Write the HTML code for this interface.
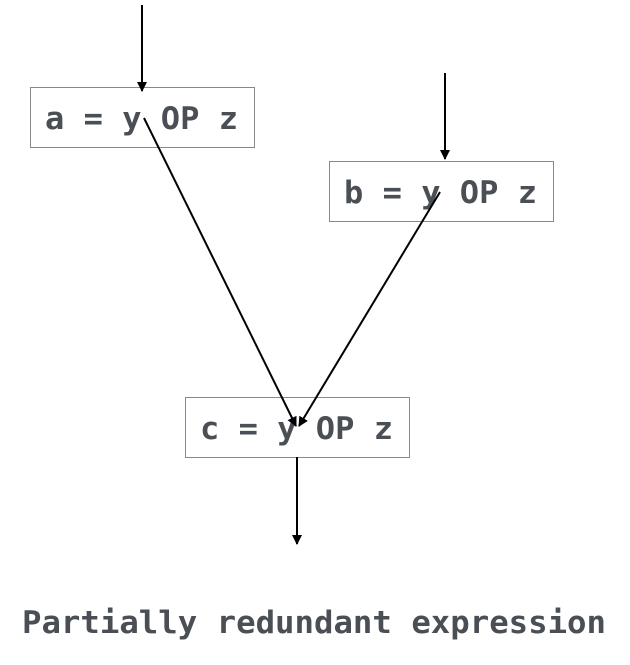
<!DOCTYPE html>
<html><head><meta charset="utf-8"><style>html,body{margin:0;padding:0;background:#fff}svg{display:block}</style></head>
<body>
<svg width="630" height="665" viewBox="0 0 630 665" xmlns="http://www.w3.org/2000/svg">
<defs><marker id="ah" markerWidth="10" markerHeight="10" refX="9" refY="5" orient="auto" markerUnits="userSpaceOnUse"><path d="M0,0 L10,5 L0,10 z" fill="#000"/></marker></defs>
<g fill="#fff" stroke="#888" stroke-width="1">
<rect x="30.5" y="87.5" width="224" height="60"/>
<rect x="329.5" y="161.5" width="224" height="60"/>
<rect x="185.5" y="397.5" width="224" height="60"/>
</g>
<g font-family="DejaVu Sans Mono, Liberation Mono, monospace" font-weight="bold" font-size="31" fill="#4a4f55">
<text x="45" y="129" textLength="193" lengthAdjust="spacingAndGlyphs">a = y OP z</text>
<text x="344" y="203" textLength="193" lengthAdjust="spacingAndGlyphs">b = y OP z</text>
<text x="200" y="439" textLength="193" lengthAdjust="spacingAndGlyphs">c = y OP z</text>
<text x="22" y="633" textLength="584" lengthAdjust="spacingAndGlyphs">Partially redundant expression</text>
</g>
<g stroke="#000" stroke-width="2" fill="none">
<line x1="142" y1="5" x2="142" y2="91" marker-end="url(#ah)"/>
<line x1="445" y1="73" x2="445" y2="159" marker-end="url(#ah)"/>
<line x1="144" y1="118" x2="296" y2="426" marker-end="url(#ah)"/>
<line x1="440" y1="192" x2="299" y2="426" marker-end="url(#ah)"/>
<line x1="297" y1="457" x2="297" y2="544" marker-end="url(#ah)"/>
</g>
</svg>
</body></html>
